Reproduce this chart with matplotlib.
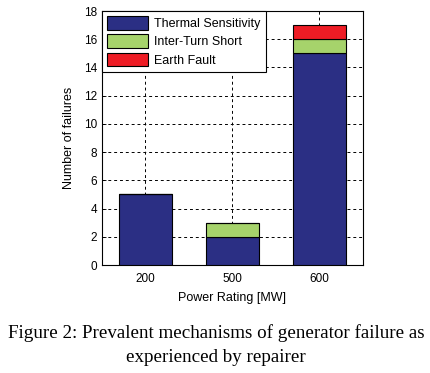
import numpy as np
import matplotlib
matplotlib.use("Agg")
import matplotlib.pyplot as plt

ratings = ["200", "500", "600"]
thermal = [5, 2, 15]
inter_turn = [0, 1, 1]
earth_fault = [0, 0, 1]

plt.rcParams["font.family"] = ["Liberation Sans", "DejaVu Sans"]

fig = plt.figure(figsize=(4.3, 3.73), dpi=100)
ax = fig.add_axes([0.237, 0.2895, 0.607, 0.681])

x = np.arange(1, len(ratings) + 1)
w = 0.6
bottom2 = np.array(thermal)
bottom3 = bottom2 + np.array(inter_turn)
ax.bar(x, thermal, w, color="#2b2f84", edgecolor="black", linewidth=0.8,
       label="Thermal Sensitivity", zorder=3)
ax.bar(x, inter_turn, w, bottom=bottom2, color="#a6d36b", edgecolor="black",
       linewidth=0.8, label="Inter-Turn Short", zorder=3)
ax.bar(x, earth_fault, w, bottom=bottom3, color="#ee1c25", edgecolor="black",
       linewidth=0.8, label="Earth Fault", zorder=3)

ax.set_xlim(0.5, 3.5)
ax.set_ylim(0, 18)
ax.set_xticks(x)
ax.set_xticklabels(ratings)
ax.set_yticks(range(0, 19, 2))
ax.tick_params(labelsize=8.5, direction="in", length=3, width=0.6)
ax.tick_params(axis="x", pad=6)
ax.grid(True, linestyle=(0, (3, 3)), color="black", linewidth=0.7, zorder=0)
for s in ax.spines.values():
    s.set_linewidth(0.8)

ax.set_xlabel("Power Rating [MW]", fontsize=9, labelpad=5)
ax.set_ylabel("Number of failures", fontsize=9, labelpad=6)

leg = ax.legend(loc="upper left", fontsize=9, fancybox=False, framealpha=1,
                edgecolor="black", borderaxespad=0, handlelength=3.3,
                handleheight=1.3, labelspacing=0.35, borderpad=0.4,
                handletextpad=0.5)
leg.get_frame().set_linewidth(0.8)

cap = dict(ha="center", va="center", fontsize=13.7, family="Liberation Serif")
fig.text(0.503, 1 - 333 / 373, "Figure 2: Prevalent mechanisms of generator failure as", **cap)
fig.text(0.503, 1 - 357 / 373, "experienced by repairer", **cap)

fig.savefig("out.png", dpi=100)
